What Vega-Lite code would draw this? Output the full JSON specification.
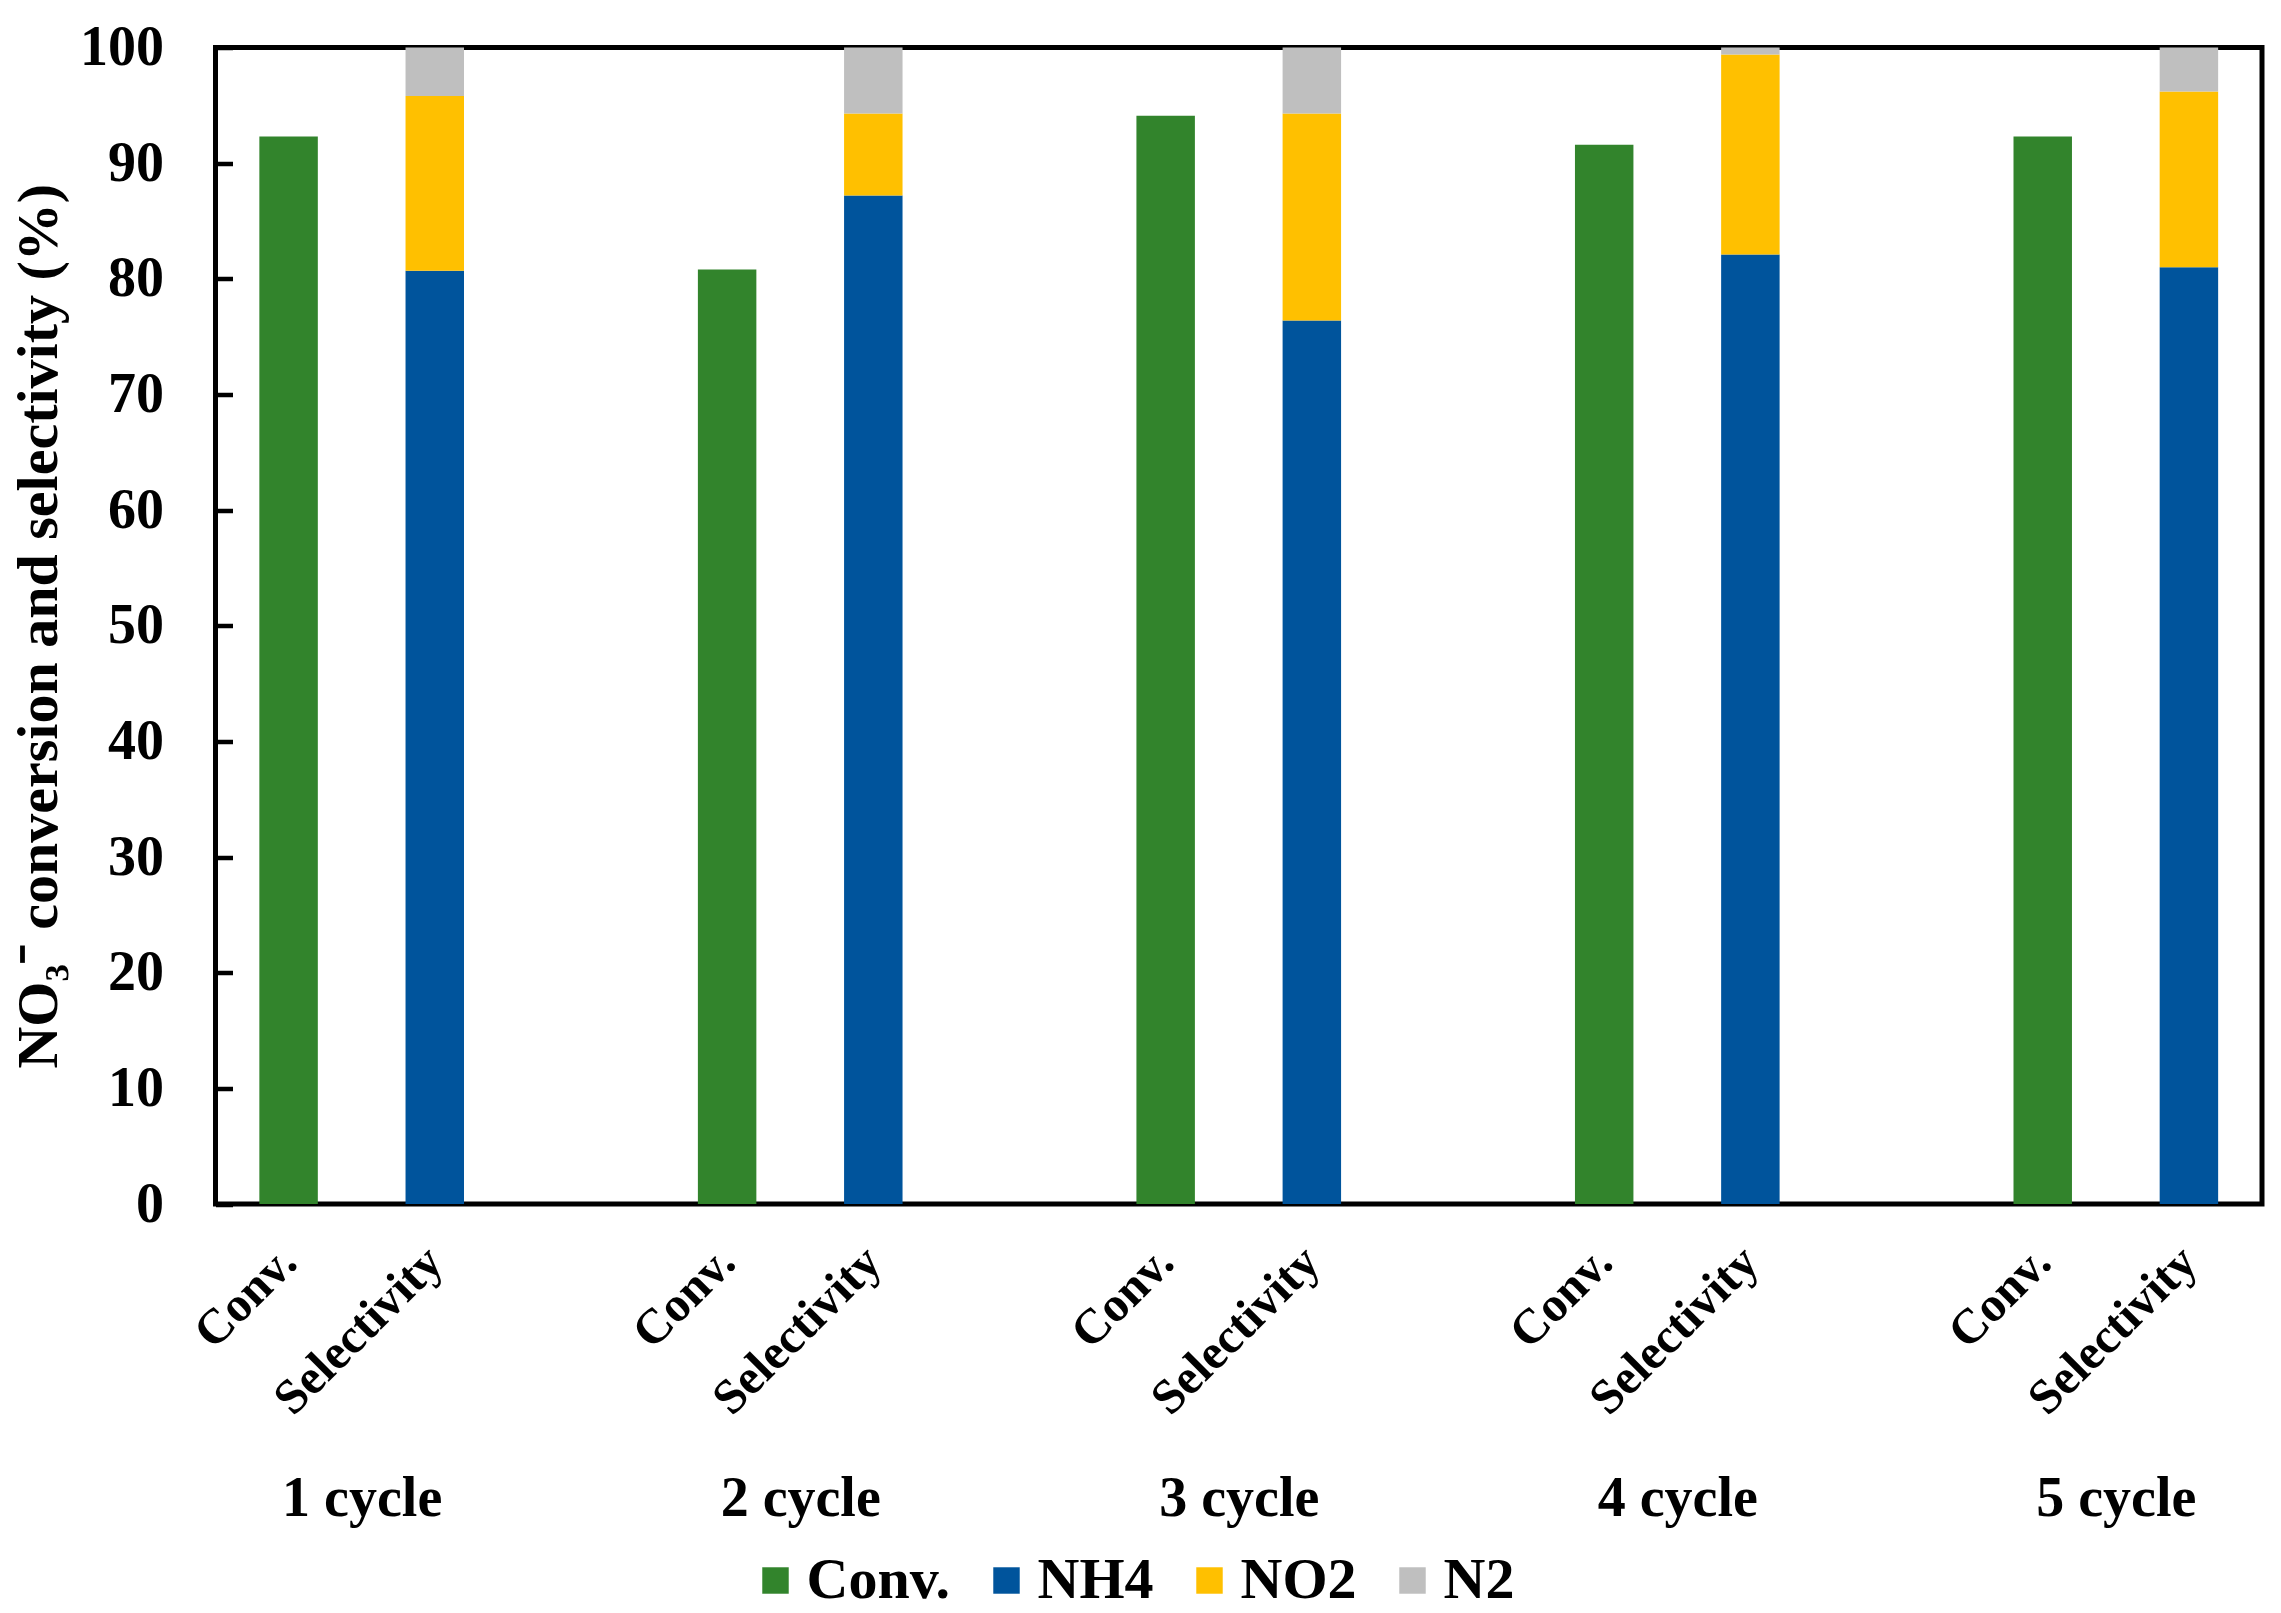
{
  "$schema": "https://vega.github.io/schema/vega-lite/v6.json",
  "autosize": {"type": "none"},
  "width": 2046.5,
  "height": 1156.5,
  "padding": {"left": 215.5, "top": 47.5, "right": 19, "bottom": 409},
  "background": "white",
  "config": {
    "font": "Liberation Serif",
    "view": {"stroke": "black", "strokeWidth": 5},
    "axis": {"labelFont": "Liberation Serif", "labelFontWeight": "bold", "labelColor": "black", "titleFont": "Liberation Serif", "titleFontWeight": "bold", "titleColor": "black", "grid": false},
    "legend": {"labelFont": "Liberation Serif", "labelFontWeight": "bold", "labelColor": "black"}
  },
  "resolve": {"scale": {"x": "independent"}, "axis": {"x": "independent"}},
  "layer": [
    {
      "data": {"values": [
        {"cat": "1 Conv.", "series": "Conv.", "value": 92.3},
        {"cat": "1 Selectivity", "series": "NH4", "value": 80.7},
        {"cat": "1 Selectivity", "series": "NO2", "value": 15.1},
        {"cat": "1 Selectivity", "series": "N2", "value": 4.2},
        {"cat": "2 Conv.", "series": "Conv.", "value": 80.8},
        {"cat": "2 Selectivity", "series": "NH4", "value": 87.2},
        {"cat": "2 Selectivity", "series": "NO2", "value": 7.1},
        {"cat": "2 Selectivity", "series": "N2", "value": 5.7},
        {"cat": "3 Conv.", "series": "Conv.", "value": 94.1},
        {"cat": "3 Selectivity", "series": "NH4", "value": 76.4},
        {"cat": "3 Selectivity", "series": "NO2", "value": 17.9},
        {"cat": "3 Selectivity", "series": "N2", "value": 5.7},
        {"cat": "4 Conv.", "series": "Conv.", "value": 91.6},
        {"cat": "4 Selectivity", "series": "NH4", "value": 82.1},
        {"cat": "4 Selectivity", "series": "NO2", "value": 17.3},
        {"cat": "4 Selectivity", "series": "N2", "value": 0.6},
        {"cat": "5 Conv.", "series": "Conv.", "value": 92.3},
        {"cat": "5 Selectivity", "series": "NH4", "value": 81.0},
        {"cat": "5 Selectivity", "series": "NO2", "value": 15.2},
        {"cat": "5 Selectivity", "series": "N2", "value": 3.8}
      ]},
      "mark": {"type": "bar", "width": {"band": 0.4}},
      "encoding": {
        "x": {
          "field": "cat", "type": "nominal",
          "scale": {"type": "band", "paddingInner": 0, "paddingOuter": 0,
            "domain": ["1 Conv.", "1 Selectivity", "1 gap", "2 Conv.", "2 Selectivity", "2 gap", "3 Conv.", "3 Selectivity", "3 gap", "4 Conv.", "4 Selectivity", "4 gap", "5 Conv.", "5 Selectivity"]},
          "axis": {"orient": "bottom", "title": null, "domain": false, "ticks": false, "labelAngle": -45, "labelAlign": "right", "labelBaseline": "middle", "labelPadding": 50, "labelFontSize": 49, "labelLimit": 0,
            "labelExpr": "indexof(datum.value, 'gap') >= 0 ? '' : slice(datum.value, 2)"}
        },
        "y": {
          "field": "value", "type": "quantitative", "stack": "zero",
          "scale": {"domain": [0, 100], "nice": false, "zero": true},
          "axis": {"title": "NO₃⁻  conversion and selectivity (%)", "titleFontSize": 58, "titlePadding": 11, "values": [0, 10, 20, 30, 40, 50, 60, 70, 80, 90, 100], "domain": false, "tickSize": -17, "tickWidth": 4.5, "tickColor": "black", "labelFontSize": 56, "labelPadding": 69, "labelFlush": false}
        },
        "order": {"field": "value", "type": "quantitative", "sort": "descending"},
        "color": {
          "field": "series", "type": "nominal",
          "sort": ["Conv.", "NH4", "NO2", "N2"],
          "scale": {"domain": ["Conv.", "NH4", "NO2", "N2"], "range": ["#32842C", "#00549C", "#FFC000", "#BFBFBF"]},
          "legend": {"title": null, "orient": "none", "legendX": 531, "legendY": 1504, "direction": "horizontal", "columns": 4, "columnPadding": 27, "symbolType": "square", "symbolSize": 700, "symbolStrokeWidth": 0, "labelFontSize": 58, "labelOffset": 2, "labelLimit": 0, "padding": 0}
        }
      }
    },
    {
      "data": {"values": [
        {"cycle": "1 cycle"}, {"cycle": "2 cycle"}, {"cycle": "3 cycle"}, {"cycle": "4 cycle"}, {"cycle": "5 cycle"}
      ]},
      "mark": {"type": "point", "opacity": 0},
      "encoding": {
        "x": {
          "field": "cycle", "type": "nominal",
          "scale": {"type": "point", "padding": 0.33333, "domain": ["1 cycle", "2 cycle", "3 cycle", "4 cycle", "5 cycle"]},
          "axis": {"orient": "bottom", "title": null, "domain": false, "ticks": false, "labelAngle": 0, "labelAlign": "center", "labelBaseline": "alphabetic", "labelPadding": 311, "labelFontSize": 56}
        }
      }
    }
  ]
}
